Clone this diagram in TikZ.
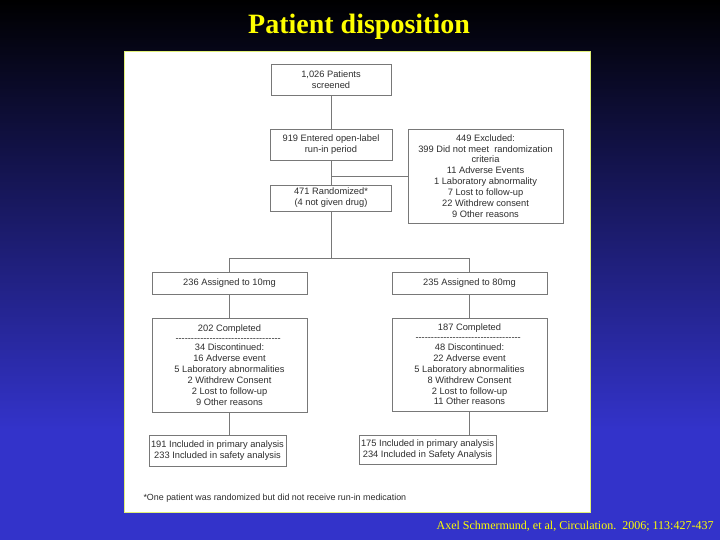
\documentclass[tikz,border=0pt]{standalone}
\usepackage{fontspec}
\setmainfont{Liberation Sans}
\newfontfamily\titlefont{Liberation Serif}
\definecolor{bgbottom}{RGB}{51,51,202}
\definecolor{titleyellow}{RGB}{255,255,0}
\definecolor{panelborder}{RGB}{225,240,120}
\definecolor{linegray}{RGB}{120,120,120}
\newcommand{\dashrow}{\hbox to 108pt{\leaders\hbox{-}\hfill}}
\tikzset{
  box/.style={draw=linegray, line width=0.6pt, fill=white, align=center, inner sep=0pt,
    font=\fontsize{9.3}{10.9}\selectfont, text=black!82},
  conn/.style={draw=linegray, line width=0.6pt},
}
\begin{document}
\begin{tikzpicture}[x=1pt,y=-1pt]
\useasboundingbox (0,0) rectangle (720,540);
\shade[top color=black, bottom color=bgbottom] (0,0) rectangle (720,430);
\fill[bgbottom] (0,429.5) rectangle (720,540);
% title
\node[font=\titlefont\bfseries\fontsize{28}{32}\selectfont, text=titleyellow] (title) at (359,27) {Patient disposition};
% panel
\node[draw=panelborder, line width=1pt, fill=white, minimum width=466pt, minimum height=460pt, inner sep=0pt] (panel) at (357,282) {};
% boxes
\node[box, minimum width=120pt, minimum height=31pt] (screen) at (331,79.5) {1,026 Patients\\screened};
\node[box, minimum width=122pt, minimum height=31pt] (runin) at (331,144.5) {919 Entered open-label\\run-in period};
\node[box, minimum width=155pt, minimum height=94pt] (excl) at (485.5,176) {449 Excluded:\\399 Did not meet\ \ randomization\\criteria\\11 Adverse Events\\1 Laboratory abnormality\\7 Lost to follow-up\\22 Withdrew consent\\9 Other reasons};
\node[box, minimum width=121pt, minimum height=26pt] (rand) at (331,198) {471 Randomized*\\(4 not given drug)};
\node[box, minimum width=155pt, minimum height=22pt] (a10) at (229.5,283) {236 Assigned to 10mg};
\node[box, minimum width=155pt, minimum height=22pt] (a80) at (469.5,283) {235 Assigned to 80mg};
\node[box, minimum width=155pt, minimum height=94pt] (c10) at (229.5,365) {202 Completed\\[-1pt]\dashrow\\[-1pt]34 Discontinued:\\16 Adverse event\\5 Laboratory abnormalities\\2 Withdrew Consent\\2 Lost to follow-up\\9 Other reasons};
\node[box, minimum width=155pt, minimum height=93pt] (c80) at (469.5,364.5) {187 Completed\\[-1pt]\dashrow\\[-1pt]48 Discontinued:\\22 Adverse event\\5 Laboratory abnormalities\\8 Withdrew Consent\\2 Lost to follow-up\\11 Other reasons};
\node[box, minimum width=137pt, minimum height=31pt] (f10) at (217.5,450.5) {191 Included in primary analysis\\233 Included in safety analysis};
\node[box, minimum width=137pt, minimum height=29pt] (f80) at (427.5,449.5) {175 Included in primary analysis\\234 Included in Safety Analysis};
% connectors
\coordinate (split) at (331,258);
\coordinate (lsplit) at (229.5,258);
\coordinate (rsplit) at (469.5,258);
\coordinate (branch) at (331,176.5);
\draw[conn] (screen.south) -- (runin.north);
\draw[conn] (runin.south) -- (rand.north);
\draw[conn] (branch) -- (branch -| excl.west);
\draw[conn] (rand.south) -- (split);
\draw[conn] (lsplit) -- (rsplit);
\draw[conn] (lsplit) -- (a10.north);
\draw[conn] (rsplit) -- (a80.north);
\draw[conn] (a10.south) -- (c10.north);
\draw[conn] (a80.south) -- (c80.north);
\draw[conn] (c10.south) -- (c10.south |- f10.north);
\draw[conn] (c80.south) -- (c80.south |- f80.north);
% footnote
\node[anchor=west, font=\fontsize{8.9}{10}\selectfont, text=black!82] (foot) at (140,498.5) {*One patient was randomized but did not receive run-in medication};
% citation
\node[anchor=east, font=\titlefont\fontsize{12}{14}\selectfont, text=titleyellow] (cite) at (717,526) {Axel Schmermund, et al, Circulation.\ \ 2006; 113:427-437};
\end{tikzpicture}
\end{document}
